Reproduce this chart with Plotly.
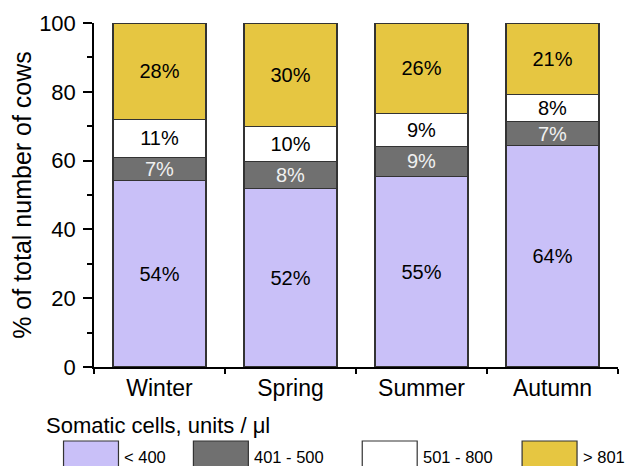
import plotly.graph_objects as go

seasons = ["Winter", "Spring", "Summer", "Autumn"]
series_names = ["< 400", "401 - 500", "501 - 800", "> 801"]
lt400 = [54.2, 52.0, 55.3, 64.4]
s401_500 = [6.8, 7.8, 8.9, 6.9]
s501_800 = [10.9, 10.2, 9.5, 8.0]
gt801 = [28.1, 30.0, 26.3, 20.7]
labels_lt400 = ["54%", "52%", "55%", "64%"]
labels_401_500 = ["7%", "8%", "9%", "7%"]
labels_501_800 = ["11%", "10%", "9%", "8%"]
labels_gt801 = ["28%", "30%", "26%", "21%"]
y_ticks = [0, 20, 40, 60, 80, 100]

colors = ["#C9C0F8", "#707070", "#FFFFFF", "#E6C641"]
text_colors = ["black", "#F0F0F0", "black", "black"]
FONT = "Arial, 'Liberation Sans', sans-serif"

OFF = 0  # body margin removed by post_script
W, H = 627 - OFF, 466 - OFF
L, R, T, B = 93.5 - OFF, 9, 23 - OFF, 99
pw, ph = W - L - R, H - T - B

fig = go.Figure()
for name, vals, labs, c, tc in zip(series_names,
                                   [lt400, s401_500, s501_800, gt801],
                                   [labels_lt400, labels_401_500, labels_501_800, labels_gt801],
                                   colors, text_colors):
    fig.add_trace(go.Bar(
        x=seasons, y=vals, name=name, text=labs,
        textposition="inside", insidetextanchor="middle",
        textfont=dict(family=FONT, size=20, color=tc),
        marker=dict(color=c, line=dict(color="#333333", width=1.2)),
        width=0.71, showlegend=False,
    ))

def px_x(px):
    return (px - OFF - L) / pw

def px_y(py):
    return (H - B - (py - OFF)) / ph

# manual legend
shapes = []
annotations = [dict(text="Somatic cells, units / \u03bcl", x=px_x(43), y=px_y(425),
                    xref="paper", yref="paper", xanchor="left", yanchor="middle",
                    showarrow=False, font=dict(family=FONT, size=22, color="black"))]
sw_left = [63, 193, 362, 522]
for xl, c, name in zip(sw_left, colors, series_names):
    shapes.append(dict(type="rect", xref="paper", yref="paper",
                       x0=px_x(xl), x1=px_x(xl + 55), y0=px_y(441), y1=px_y(474),
                       fillcolor=c, line=dict(color="#333333", width=1.2)))
    annotations.append(dict(text=name, x=px_x(xl + 60), y=px_y(457),
                            xref="paper", yref="paper", xanchor="left", yanchor="middle",
                            showarrow=False, borderpad=0,
                            font=dict(family=FONT, size=16.5, color="black")))

fig.update_layout(
    barmode="stack",
    width=W, height=H,
    margin=dict(l=L, r=R, t=T, b=B, autoexpand=False),
    paper_bgcolor="white", plot_bgcolor="white",
    font=dict(family=FONT, color="black"),
    uniformtext=dict(minsize=20, mode="show"),
    shapes=shapes, annotations=annotations,
    xaxis=dict(
        type="category", range=[-0.5, 3.5],
        showline=True, linecolor="black", linewidth=1.5,
        ticks="outside", tickson="boundaries", ticklen=5, tickwidth=1.5, tickcolor="black",
        tickfont=dict(family=FONT, size=23, color="black"),
        showgrid=False, zeroline=False,
    ),
    yaxis=dict(
        range=[0, 100], tickvals=y_ticks,
        showline=True, linecolor="black", linewidth=1.5,
        ticks="outside", ticklen=9, tickwidth=1.5, tickcolor="black",
        minor=dict(ticks="outside", ticklen=5, tickwidth=1.5, tickcolor="black", dtick=10, showgrid=False),
        tickfont=dict(family=FONT, size=22, color="black"),
        ticklabelstandoff=3,
        title=dict(text="% of total number of cows", font=dict(family=FONT, size=25, color="black"), standoff=0),
        showgrid=False, zeroline=False,
    ),
)

fig.write_html("out.html",
               config={"displayModeBar": False},
               post_script="document.body.style.margin='0';document.body.style.overflow='hidden';")
